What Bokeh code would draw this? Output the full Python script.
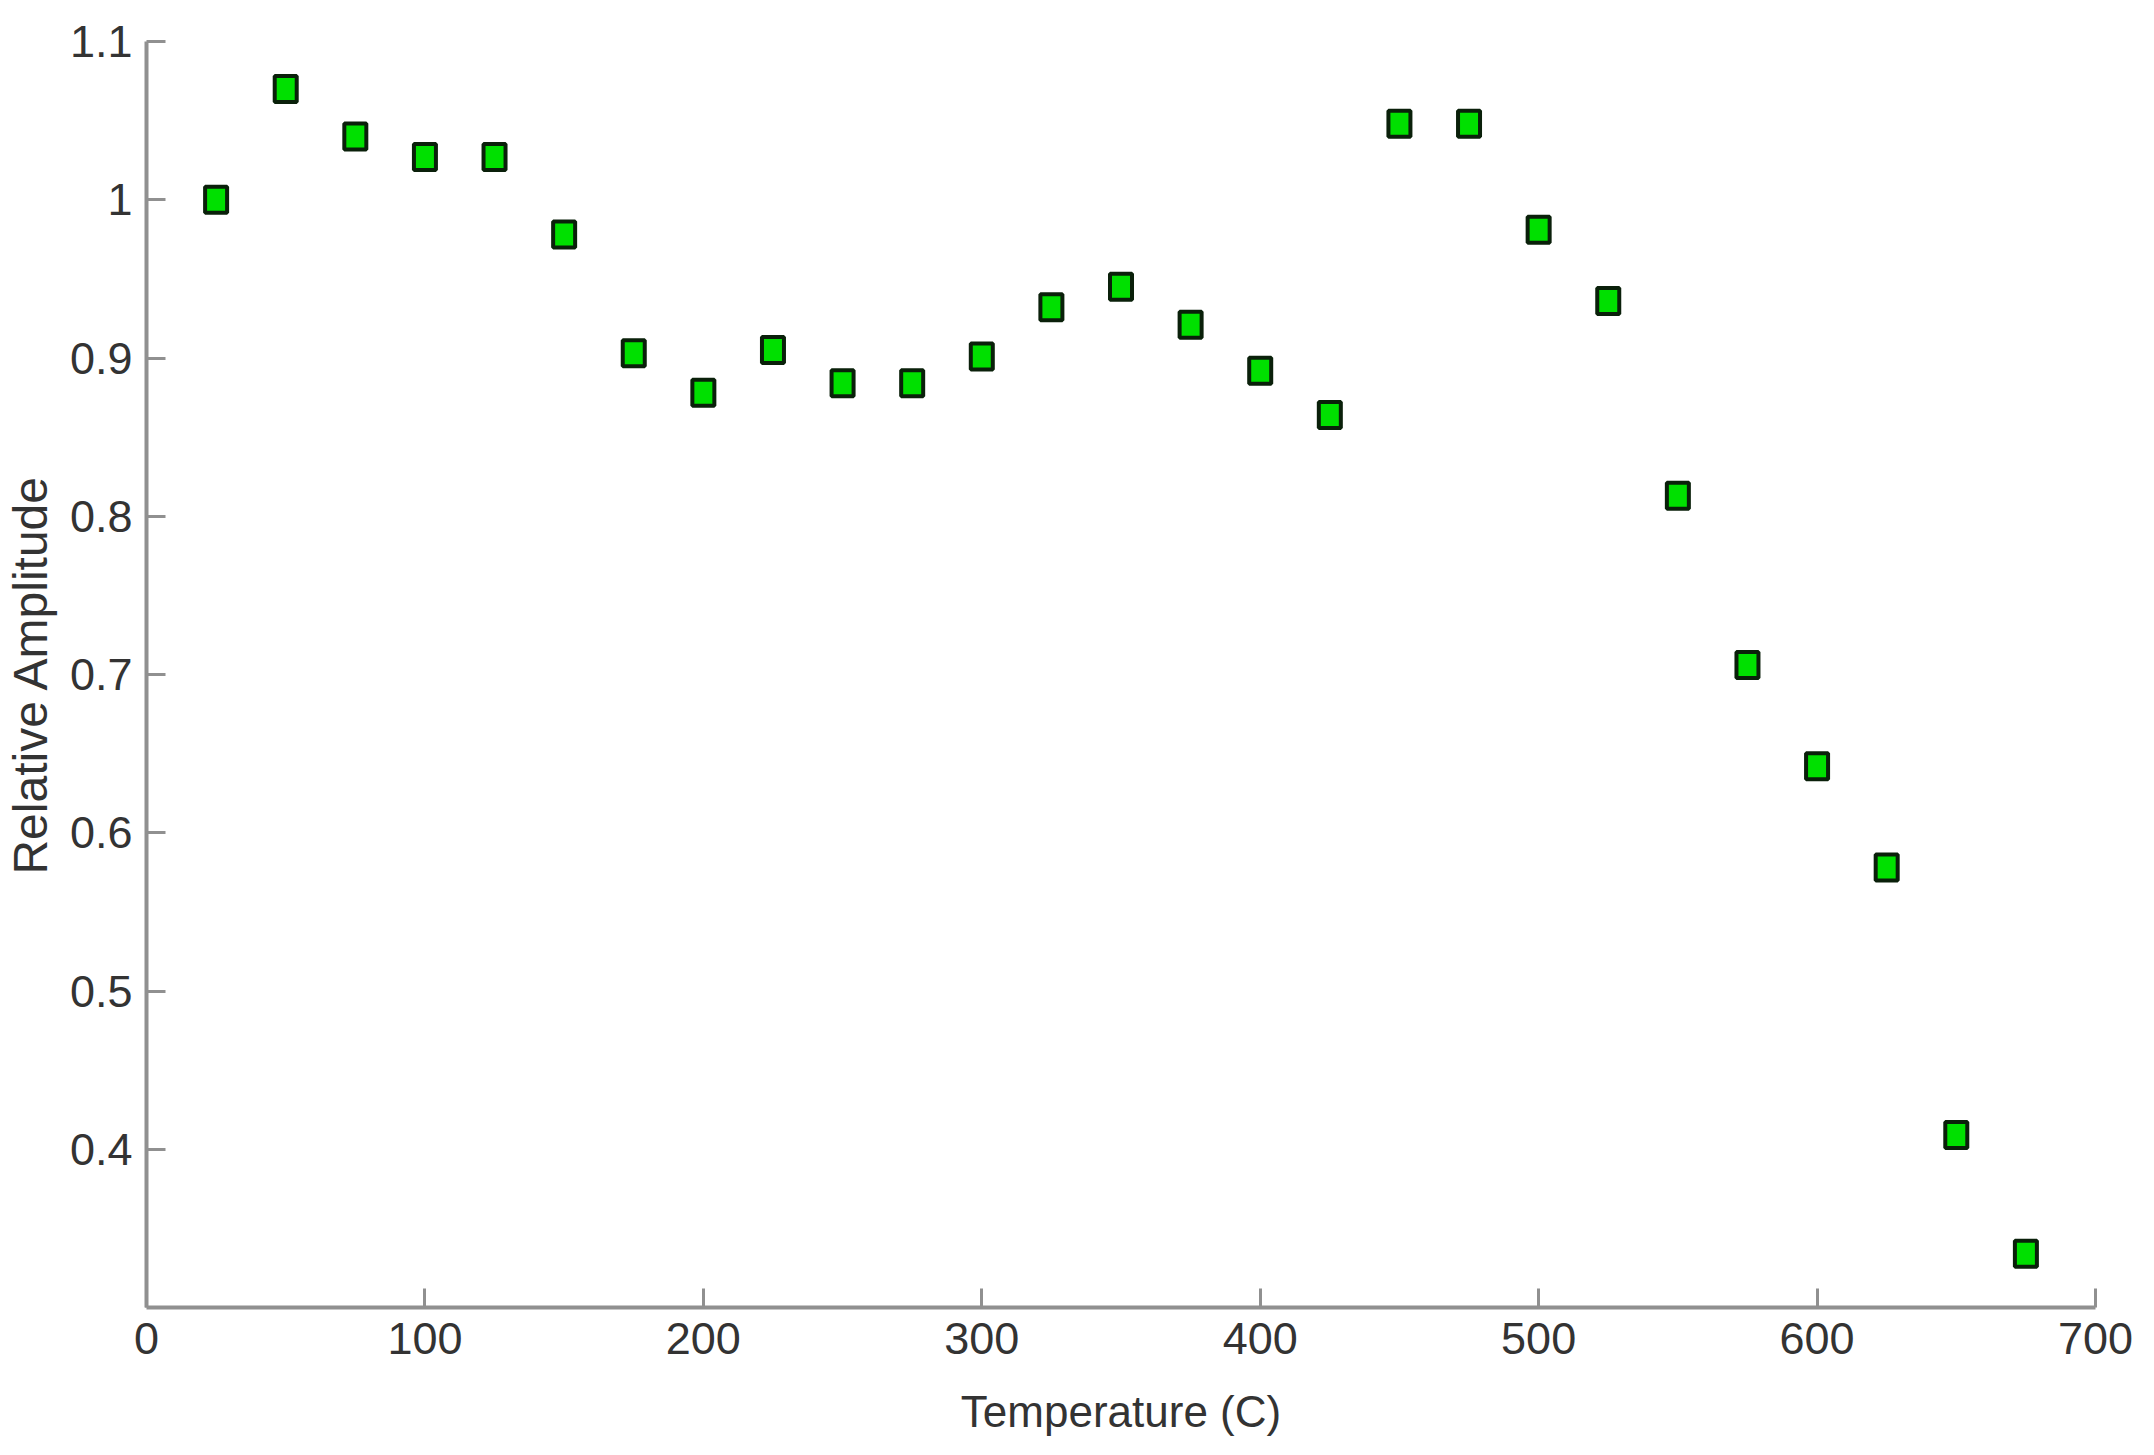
from bokeh.plotting import figure
from bokeh.models import Range1d, FixedTicker, ColumnDataSource
from bokeh.embed import file_html
from bokeh.resources import INLINE

# Data
temperature = [25, 50, 75, 100, 125, 150, 175, 200, 225, 250, 275, 300, 325, 350,
               375, 400, 425, 450, 475, 500, 525, 550, 575, 600, 625, 650, 675]
relative_amplitude = [1.000, 1.070, 1.040, 1.027, 1.027, 0.978, 0.903, 0.878, 0.905,
                      0.884, 0.884, 0.901, 0.932, 0.945, 0.921, 0.892, 0.864, 1.048,
                      1.048, 0.981, 0.936, 0.813, 0.706, 0.642, 0.578, 0.409, 0.334]
x_ticks = [0, 100, 200, 300, 400, 500, 600, 700]
y_ticks = [0.4, 0.5, 0.6, 0.7, 0.8, 0.9, 1.0, 1.1]
x_label = "Temperature (C)"
y_label = "Relative Amplitude"

src = ColumnDataSource(dict(x=temperature, y=relative_amplitude))

W, H = 2138, 1439
p = figure(width=W, height=H, output_backend="svg", toolbar_location=None,
           x_range=Range1d(0, 700), y_range=Range1d(0.3, 1.1),
           min_border_left=143, min_border_right=43, min_border_top=41,
           min_border_bottom=132)
p.outline_line_color = None
p.background_fill_color = "white"
p.border_fill_color = "white"
p.xgrid.visible = False
p.ygrid.visible = False

p.rect(x="x", y="y", width=22, height=26, width_units="screen", height_units="screen",
       source=src, fill_color="#00e000", line_color="#0a200a", line_width=4)

FONT = "Liberation Sans"
AX_COLOR = "#909090"
for ax in (p.xaxis[0], p.yaxis[0]):
    ax.axis_line_color = AX_COLOR
    ax.axis_line_width = 4
    ax.major_tick_line_color = AX_COLOR
    ax.major_tick_line_width = 3
    ax.major_tick_out = 0
    ax.major_tick_in = 19
    ax.minor_tick_line_color = None
    ax.major_label_text_font = FONT
    ax.major_label_text_font_size = "45px"
    ax.major_label_text_color = "#333333"
    ax.axis_label_text_font = FONT
    ax.axis_label_text_font_style = "normal"
    ax.axis_label_text_color = "#333333"

p.xaxis.axis_label_text_font_size = "44px"
p.yaxis.axis_label_text_font_size = "48px"
p.xaxis.ticker = FixedTicker(ticks=x_ticks)
p.yaxis.ticker = FixedTicker(ticks=y_ticks)
p.yaxis.major_label_overrides = {1.0: "1"}
p.xaxis.axis_label = x_label
p.yaxis.axis_label = y_label
p.xaxis.major_label_standoff = 15
p.yaxis.major_label_standoff = 14
p.xaxis.axis_label_standoff = 30
p.yaxis.axis_label_standoff = 10

open("out.html", "w").write(file_html(p, INLINE))
